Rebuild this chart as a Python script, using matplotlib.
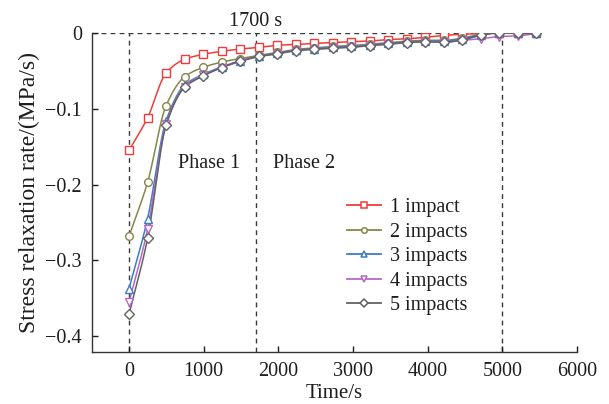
import numpy as np
import matplotlib
matplotlib.use("Agg")
import matplotlib.pyplot as plt

plt.rcParams["font.family"] = ["Liberation Serif", "DejaVu Serif"]

# Sampling times (s)
time_s = [0, 248, 496, 744, 992, 1240, 1488, 1736, 1984, 2232, 2480, 2728,
          2976, 3224, 3472, 3720, 3968, 4216, 4464, 4712, 4960, 5208, 5456]

# Stress relaxation rate (MPa/s) for each number of impacts
rate_1 = [-0.155, -0.112, -0.053, -0.035, -0.0285, -0.0245, -0.0215, -0.0193, -0.0165,
          -0.0155, -0.014, -0.013, -0.0118, -0.011, -0.009, -0.008, -0.006, -0.0036,
          -0.002, -0.001, 0.000, 0.000, 0.000]
rate_2 = [-0.268, -0.197, -0.096, -0.058, -0.0457, -0.0387, -0.034, -0.030, -0.026,
          -0.022, -0.020, -0.018, -0.017, -0.015, -0.013, -0.011, -0.010, -0.010,
          -0.007, -0.002, 0.000, -0.001, -0.001]
rate_3 = [-0.337, -0.245, -0.116, -0.069, -0.055, -0.045, -0.037, -0.031, -0.027,
          -0.023, -0.021, -0.019, -0.018, -0.016, -0.014, -0.012, -0.011, -0.011,
          -0.008, -0.003, 0.000, -0.001, -0.001]
rate_4 = [-0.355, -0.259, -0.120, -0.071, -0.056, -0.046, -0.038, -0.0315, -0.028,
          -0.0235, -0.0215, -0.020, -0.019, -0.017, -0.015, -0.013, -0.012, -0.0125,
          -0.010, -0.008, -0.005, -0.004, -0.001]
rate_5 = [-0.371, -0.271, -0.122, -0.072, -0.057, -0.046, -0.0373, -0.0313, -0.0276,
          -0.0236, -0.0218, -0.0205, -0.019, -0.017, -0.015, -0.013, -0.012, -0.0125,
          -0.0095, -0.0035, 0.000, -0.001, -0.001]

series_labels = ["1 impact", "2 impacts", "3 impacts", "4 impacts", "5 impacts"]
series_values = [rate_1, rate_2, rate_3, rate_4, rate_5]
colors = ["#f03c3c", "#86864a", "#3d7bc6", "#b767c6", "#626262"]
markers = ["s", "o", "^", "v", "D"]


def pchip(x, y, xs):
    """Monotone cubic (Fritsch-Carlson) curve through the data points."""
    x = np.asarray(x, float)
    y = np.asarray(y, float)
    h = np.diff(x)
    d = np.diff(y) / h
    m = np.zeros_like(y)
    m[0], m[-1] = d[0], d[-1]
    for k in range(1, len(y) - 1):
        if d[k - 1] * d[k] > 0:
            w1 = 2 * h[k] + h[k - 1]
            w2 = h[k] + 2 * h[k - 1]
            m[k] = (w1 + w2) / (w1 / d[k - 1] + w2 / d[k])
    idx = np.clip(np.searchsorted(x, xs) - 1, 0, len(x) - 2)
    t = (xs - x[idx]) / h[idx]
    h00 = 2 * t**3 - 3 * t**2 + 1
    h10 = t**3 - 2 * t**2 + t
    h01 = -2 * t**3 + 3 * t**2
    h11 = t**3 - t**2
    return h00 * y[idx] + h10 * h[idx] * m[idx] + h01 * y[idx + 1] + h11 * h[idx] * m[idx + 1]


FS = 14.5
TXT = "#1e1e1e"

fig = plt.figure(figsize=(6.09, 4.04), dpi=100)
ax = fig.add_axes([0.1506, 0.128, 0.797, 0.791])

# Reference lines: zero level and phase boundaries
dash_kw = dict(color="#3a3a3a", lw=1.0, ls=(0, (3.5, 3)), zorder=1)
ax.plot([-500, 5000], [0, 0], **dash_kw)
for xv in (0, 1700, 5000):
    ax.plot([xv, xv], [-0.421, 0], **dash_kw)

xs = np.linspace(time_s[0], time_s[-1], 900)
for lab, vals, c, mk in zip(series_labels, series_values, colors, markers):
    ax.plot(xs, pchip(time_s, vals, xs), color=c, lw=1.1, zorder=3)
    ax.plot(time_s, vals, ls="none", marker=mk, ms=5.5 if mk != "D" else 5,
            mfc="white", mec=c, mew=1.0, zorder=4)
    ax.plot([], [], color=c, lw=1.3, marker=mk, ms=4, mfc="white", mec=c,
            mew=1.1, label=lab)

ax.set_xlim(-500, 6000)
ax.set_ylim(-0.421, 0)
ax.set_xticks(np.arange(0, 6001, 1000))
ax.set_yticks([-0.4, -0.3, -0.2, -0.1, 0])
ax.set_yticklabels(["\u22120.4", "\u22120.3", "\u22120.2", "\u22120.1", "0"])
ax.tick_params(direction="in", length=4, width=1, labelsize=FS, colors=TXT, pad=7)

for side in ("top", "right"):
    ax.spines[side].set_visible(False)
for side in ("left", "bottom"):
    ax.spines[side].set_linewidth(1.0)
    ax.spines[side].set_color("#333333")

ax.set_xlabel("Time/s", fontsize=15, labelpad=2, color=TXT)
ax.set_ylabel("Stress relaxation rate/(MPa/s)", fontsize=17, labelpad=4, color=TXT)

ax.text(1700, 0.0095, "1700 s", fontsize=FS, ha="center", va="baseline", color=TXT)
ax.text(1070, -0.172, "Phase 1", fontsize=FS, ha="center", va="center", color=TXT)
ax.text(2346, -0.172, "Phase 2", fontsize=FS, ha="center", va="center", color=TXT)

leg = ax.legend(loc="upper left", bbox_to_anchor=(0.525, 0.482), frameon=False,
                fontsize=FS, handlelength=1.7, handletextpad=0.45,
                labelspacing=0.27, borderaxespad=0, borderpad=0)
for t in leg.get_texts():
    t.set_color(TXT)

fig.savefig("out.png", dpi=100)
